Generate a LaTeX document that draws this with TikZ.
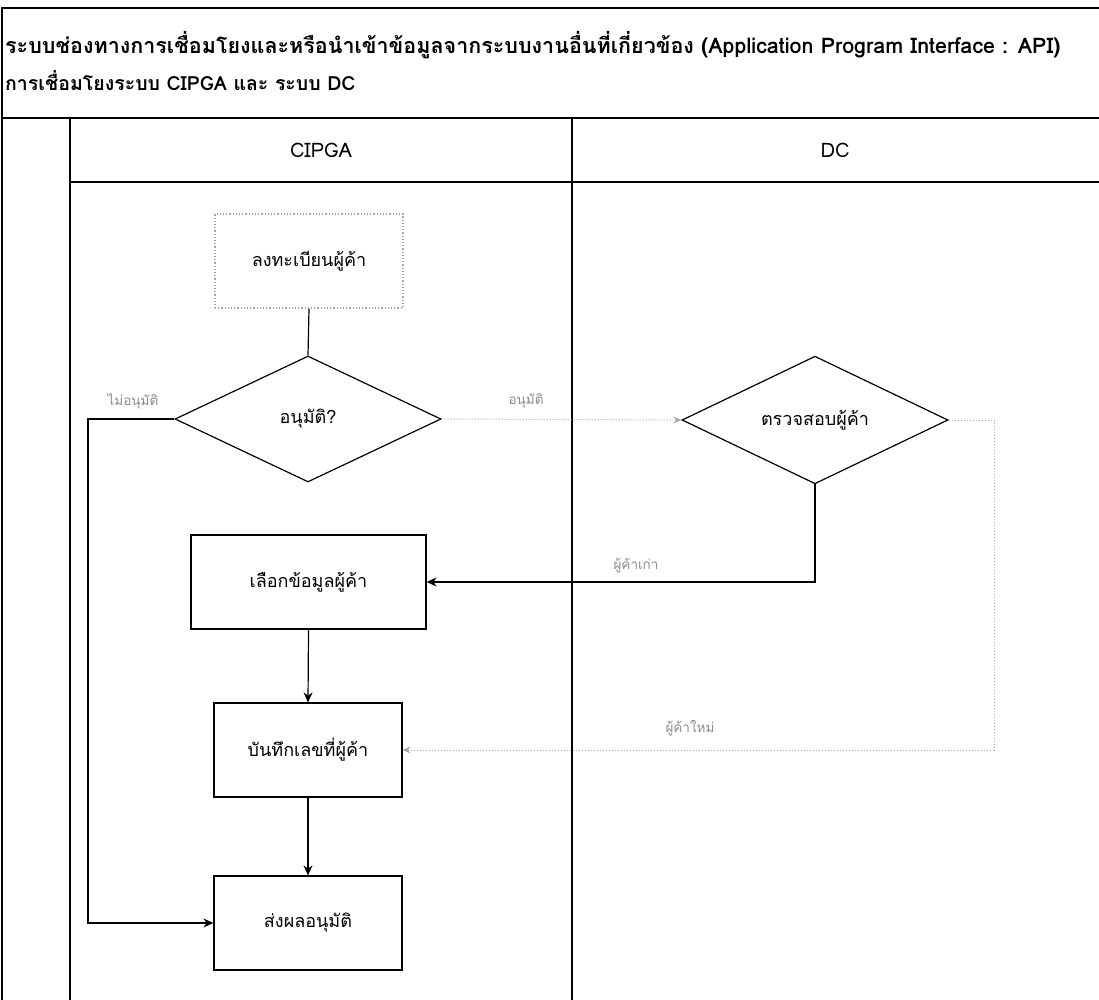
\documentclass[tikz,border=0pt]{standalone}
\usepackage{fontspec}
\setmainfont{Loma}[Script=Thai]
\newfontfamily\thai[Script=Thai]{Loma}
\usetikzlibrary{arrows.meta,shapes.geometric}
\begin{document}
\begin{tikzpicture}[x=1pt,y=-1pt,
  frame/.style={draw=black,line width=1.3pt},
  box/.style={draw=black,line width=1.2pt,rectangle,minimum width=188pt,minimum height=94pt,inner sep=0pt,font=\thai\fontsize{18}{22}\selectfont},
  fadedbox/.style={box,draw=black!35,dotted},
  dec/.style={draw=black,line width=1.2pt,diamond,minimum width=266pt,minimum height=126pt,inner sep=0pt,font=\thai\fontsize{18}{22}\selectfont},
  conn/.style={draw=black,line width=1.2pt},
  arr/.style={conn,-{Stealth[length=10pt,width=9pt]}},
  fadedarr/.style={draw=black!35,line width=1pt,dotted,-{Stealth[length=8pt,width=7pt]}},
  fadedlbl/.style={text=black!45,font=\thai\fontsize{13.5}{16}\selectfont,inner sep=0pt},
  lane/.style={font=\thai\fontsize{20}{24}\selectfont,inner sep=0pt},
  ttl/.style={font=\thai\bfseries\fontsize{20.5}{24}\selectfont,anchor=west,inner sep=0pt}]
\useasboundingbox[fill=white] (0,0) rectangle (1099,1000);
% frame
\draw[frame] (1099,8) -- (2,8) -- (2,1000);
\draw[frame] (2,118) -- (1099,118);
\draw[frame] (70,182) -- (1099,182);
\draw[frame] (70,118) -- (70,1000);
\draw[frame] (572,118) -- (572,1000);
% title
\node[ttl,font=\thai\bfseries\fontsize{21.5}{24}\selectfont] (t1) at (5,45) {ระบบช่องทางการเชื่อมโยงและหรือนำเข้าข้อมูลจากระบบงานอื่นที่เกี่ยวข้อง (Application Program Interface : API)};
\node[ttl,font=\thai\bfseries\fontsize{19.5}{24}\selectfont] (t2) at (5,81) {การเชื่อมโยงระบบ CIPGA และ ระบบ DC};
% lane headers
\node[lane] (lc) at (321,150) {CIPGA};
\node[lane] (ld) at (835,150) {DC};
% nodes
\node[fadedbox] (reg) at (309,261) {ลงทะเบียนผู้ค้า};
\node[dec] (d1) at (308,419) {อนุมัติ?};
\node[dec] (d2) at (815,420) {ตรวจสอบผู้ค้า};
\node[box,minimum width=235pt] (sel) at (308.5,582) {เลือกข้อมูลผู้ค้า};
\node[box] (rec) at (308,750) {บันทึกเลขที่ผู้ค้า};
\node[box] (res) at (308,923) {ส่งผลอนุมัติ};
\coordinate (nl) at (88,419);
\coordinate (nr) at (994,420);
% connectors
\draw[conn] (reg.south) -- (d1.north);
\draw[arr] (d1.west) -- (nl) |- (res.west);
\draw[fadedarr] (d1.east) -- (d2.west);
\draw[arr] (d2.south) |- (sel.east);
\draw[arr] (sel.south) -- (rec.north);
\draw[arr] (rec.south) -- (res.north);
\draw[fadedarr] (d2.east) -- (nr) |- (rec.east);
% labels
\node[fadedlbl] (l1) at (133,401) {ไม่อนุมัติ};
\node[fadedlbl] (l2) at (526,401) {อนุมัติ};
\node[fadedlbl] (l3) at (636,566) {ผู้ค้าเก่า};
\node[fadedlbl] (l4) at (690,728) {ผู้ค้าใหม่};
\end{tikzpicture}
\end{document}
